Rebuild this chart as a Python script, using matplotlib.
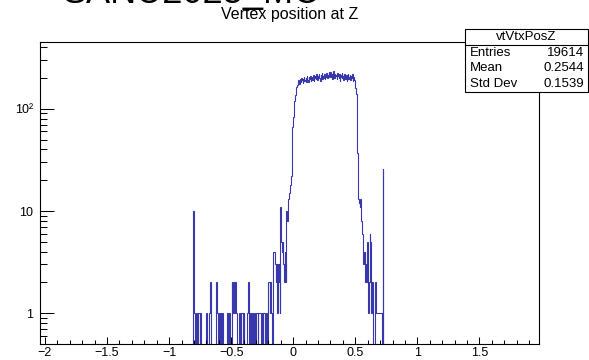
import numpy as np
import matplotlib
matplotlib.use("Agg")
import matplotlib.pyplot as plt
from matplotlib.patches import Rectangle
from matplotlib.lines import Line2D

plt.rcParams['font.family'] = ['Liberation Sans', 'DejaVu Sans']

# ---------------- data (bin width 0.005, first bin starts at -0.83) ----------------
bin_start = -0.83
bin_width = 0.005

low_tail_counts = [
    0, 0, 0, 0, 0, 10, 1, 1, 0, 1, 1, 0, 0, 1, 1, 0, 1, 1, 0, 0,
    0, 0, 0, 0, 0, 1, 1, 0, 0, 0, 0, 1, 2, 0, 0, 0, 0, 0, 0, 0,
    0, 1, 2, 1, 1, 0, 1, 1, 0, 1, 0, 1, 1, 0, 0, 0, 0, 0, 0, 1,
    1, 0, 1, 1, 0, 0, 0, 2, 1, 2, 2, 1, 2, 1, 1, 0, 0, 0, 0, 1,
    1, 0, 1, 1, 1, 0, 1, 0, 0, 0, 0, 1, 1, 2, 1, 0, 1, 1, 0, 1,
    1, 0, 1, 1, 1, 0, 1, 1, 1, 0, 1, 1, 1, 1, 0, 1, 1, 0, 1, 1,
    1, 0, 1, 1, 0, 1, 2, 2, 1, 2, 1, 1, 0, 1, 4, 4, 3, 3, 2, 3,
    1, 3, 2, 3, 1, 11, 6, 5, 4, 5, 3, 2, 4, 3, 2, 10, 8,
]
rise_counts = [12, 13, 15, 16, 18, 20, 22, 66, 75, 83, 100, 120, 137, 150, 165, 172, 180, 192]
plateau_counts = [
    188, 176, 195, 183, 201, 190, 178, 196, 205, 187, 193,
    199, 184, 207, 192, 181, 203, 196, 210, 189, 198,
    205, 193, 214, 186, 200, 211, 197, 219, 204, 190,
    208, 221, 199, 187, 213, 203, 225, 196, 210, 201,
    218, 194, 206, 223, 209, 198, 215, 230, 204, 212,
    227, 205, 219, 197, 233, 211, 200, 221, 208, 216,
    196, 224, 210, 202, 218, 189, 213, 206, 222, 199,
    211, 193, 219, 204, 197, 215, 186, 208, 220, 195,
    203, 214, 190, 209, 198, 217, 185, 205, 192, 180,
]
fall_counts = [160, 140, 60, 37, 25]
high_tail_counts = [
    13, 12, 11, 13, 10, 8, 6, 4, 3, 4, 3, 2, 3, 2, 5, 1, 1, 2, 6, 5,
    2, 1, 2, 1, 0, 0, 2, 2, 2, 1, 1, 1, 1, 1, 1, 1, 1, 1, 0, 26,
]

x_ticks = [-2, -1.5, -1, -0.5, 0, 0.5, 1, 1.5]
x_tick_labels = ["\u22122", "\u22121.5", "\u22121", "\u22120.5", "0", "0.5", "1", "1.5"]
y_ticks = [1, 10, 100]
y_tick_labels = ["1", "10", "10\u00b2"]

title = "Vertex position at Z"
top_label = "SANU2025_MC"
stat_name = "vtVtxPosZ"
stat_rows = [("Entries", "19614"), ("Mean", "0.2544"), ("Std Dev", "0.1539")]

# ---------------- figure ----------------
W, H = 589, 360
fig = plt.figure(figsize=(W / 100, H / 100), dpi=100)
L, R, T, B = 40, 539, 42, 344
ax = fig.add_axes([L / W, 1 - B / H, (R - L) / W, (B - T) / H])

counts = np.array(low_tail_counts + rise_counts + plateau_counts + fall_counts + high_tail_counts, float)
edges = bin_start + bin_width * np.arange(len(counts) + 1)
floor = 1e-3
plot_vals = np.where(counts > 0, counts, floor)
ax.stairs(plot_vals, edges, baseline=floor, color='#3838ac', lw=0.8)

ax.set_yscale('log')
ax.set_ylim(0.5, 450)
ax.set_xlim(-2.04, 1.98)

ax.set_xticks(x_ticks)
ax.set_xticklabels(x_tick_labels)
ax.set_xticks(np.round(np.arange(-2.0, 1.99, 0.1), 2), minor=True)
ax.set_yticks(y_ticks)
ax.set_yticklabels(y_tick_labels)
ymin = [0.6, 0.7, 0.8, 0.9] + [k for k in range(2, 10)] + [10 * k for k in range(2, 10)] + [200, 300, 400]
ax.set_yticks(ymin, minor=True)
ax.yaxis.set_minor_formatter(plt.NullFormatter())

ax.tick_params(axis='both', which='both', direction='in', top=False, right=False,
               width=0.75, color='black', labelsize=9)
ax.tick_params(axis='x', which='major', length=5, pad=2.5)
ax.tick_params(axis='x', which='minor', length=3)
ax.tick_params(axis='y', which='major', length=10, pad=5)
ax.tick_params(axis='y', which='minor', length=5)
for s in ax.spines.values():
    s.set_linewidth(0.8)

# title and (clipped) top label
fig.text(290 / W, 1 - 15 / H, title, ha='center', va='center', fontsize=11.5)
fig.text(62 / W, 1 - 3 / H, top_label, ha='left', va='baseline', fontsize=26)

# stat box
bx0, bx1, by0, by1 = 465, 588, 29, 92
fig.add_artist(Rectangle((bx0 / W, 1 - by1 / H), (bx1 - bx0) / W, (by1 - by0) / H,
                         transform=fig.transFigure, fc='white', ec='black', lw=0.8, zorder=10))
rowh = (by1 - by0) / 4
fig.add_artist(Line2D([bx0 / W, bx1 / W], [1 - (by0 + rowh) / H] * 2, transform=fig.transFigure,
                      color='black', lw=0.8, zorder=11))
fig.text((bx0 + bx1) / 2 / W, 1 - (by0 + rowh / 2) / H, stat_name, ha='center', va='center',
         fontsize=9.5, zorder=12)
for k, (name, val) in enumerate(stat_rows):
    yc = by0 + rowh * (k + 1.5)
    fig.text((bx0 + 5) / W, 1 - yc / H, name, ha='left', va='center', fontsize=9.5, zorder=12)
    fig.text((bx1 - 4) / W, 1 - yc / H, val, ha='right', va='center', fontsize=9.5, zorder=12)

fig.savefig("out.png", dpi=100)
